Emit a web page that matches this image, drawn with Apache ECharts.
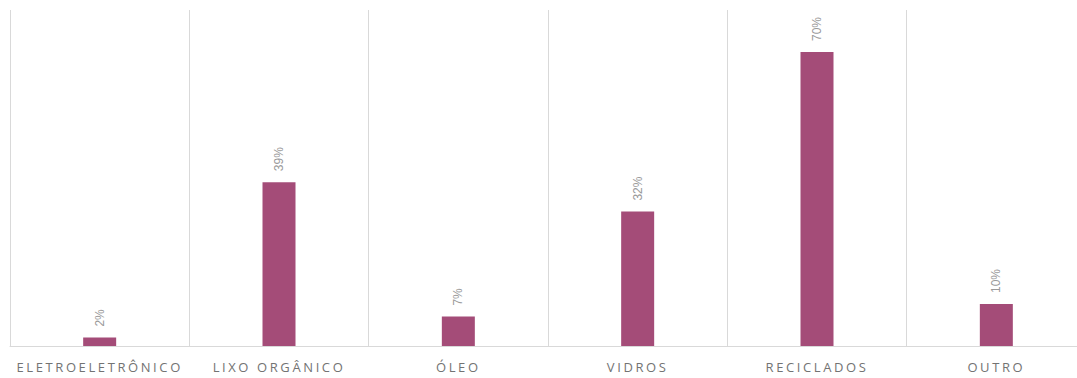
<!DOCTYPE html>
<html><head><meta charset="utf-8">
<script src="https://cdn.jsdelivr.net/npm/echarts@6/dist/echarts.min.js"></script>
<style>html,body{margin:0;padding:0;background:#fff;overflow:hidden;width:1077px;height:378px}#c{width:1090px;height:378px}</style>
</head><body><div id="c"></div>
<script>
const categories = ['ELETROELETRÔNICO','LIXO ORGÂNICO','ÓLEO','VIDROS','RECICLADOS','OUTRO'];
const values = [2, 39, 7, 32, 70, 10];
const valueLabels = ['2%','39%','7%','32%','70%','10%'];

const chart = echarts.init(document.getElementById('c'), null, {renderer: 'svg'});
chart.setOption({
  animation: false,
  backgroundColor: '#fff',
  grid: {left: 10, top: 10, width: 1076, bottom: 32, containLabel: false},
  xAxis: {
    type: 'category', data: categories, boundaryGap: true,
    axisLine: {show: true, lineStyle: {color: '#d9d9d9', width: 1}},
    axisTick: {show: false},
    splitLine: {show: true, interval: 0, lineStyle: {color: '#d9d9d9', width: 1}},
    axisLabel: {interval: 0, color: '#737373', fontFamily: 'Open Sans', fontSize: 13, margin: 14}
  },
  yAxis: {type: 'value', min: 0, max: 80, show: false, splitLine: {show: false}},
  series: [{
    type: 'bar', data: values, barWidth: 33,
    itemStyle: {color: '#a44c78'},
    label: {
      show: true, position: 'top', rotate: 90, distance: 11,
      align: 'left', verticalAlign: 'middle',
      color: '#9a9a9a', fontFamily: 'Liberation Sans Narrow, Liberation Sans', fontSize: 12,
      formatter: p => valueLabels[p.dataIndex]
    }
  }]
});
function spaceLabels(){
  document.querySelectorAll('#c svg text').forEach(t => {
    if (categories.includes(t.textContent.trim())) t.style.letterSpacing = '2.6px';
  });
}
spaceLabels();
chart.on('finished', spaceLabels);
</script></body></html>
